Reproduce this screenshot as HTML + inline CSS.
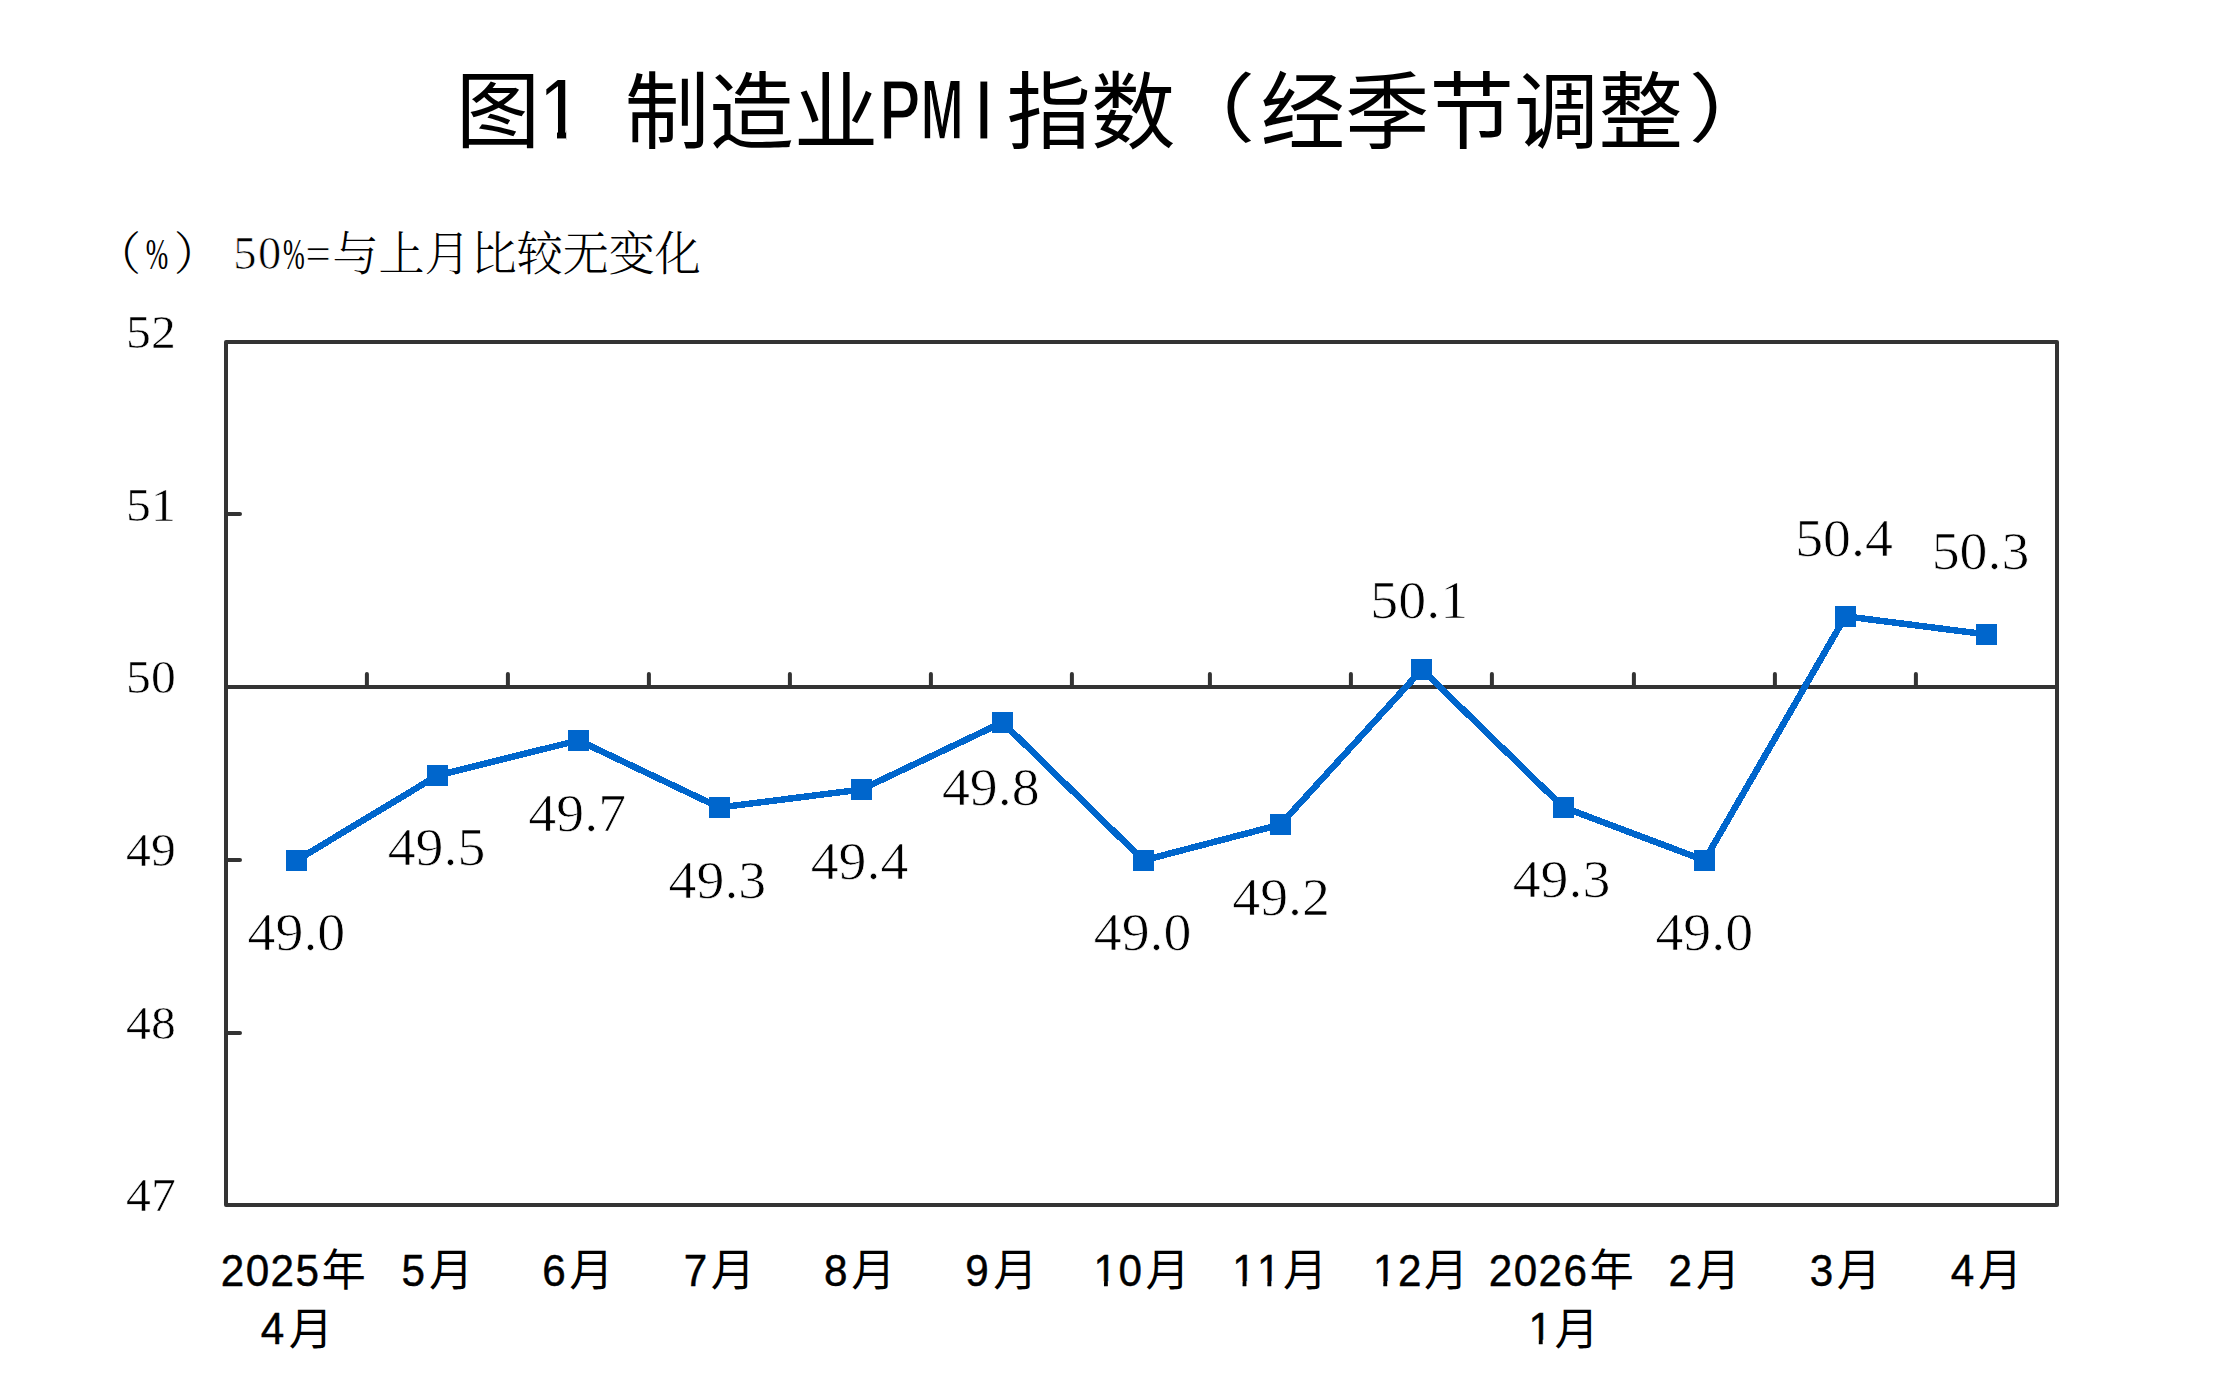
<!DOCTYPE html>
<html lang="zh-CN"><head><meta charset="utf-8"><title>图1 制造业PMI指数（经季节调整）</title>
<style>html,body{margin:0;padding:0;background:#fff}svg{display:block}.hei{font-family:"Liberation Sans","Noto Sans CJK SC","WenQuanYi Zen Hei",sans-serif}.song{font-family:"Liberation Serif","Noto Serif CJK SC",serif}.tnr{font-family:"Liberation Serif",serif}text{fill:#000}</style></head><body>
<svg width="2216" height="1396" viewBox="0 0 2216 1396">
<rect width="2216" height="1396" fill="#fff"/>
<text class="hei" x="455.80" y="140.50" font-size="84.5" text-anchor="start" font-weight="400">图</text>
<clipPath id="c1"><path d="M536 60H600V130H566.2V150H557V130H536Z"/></clipPath>
<g clip-path="url(#c1)">
<text class="hei" transform="translate(560.00,140.10) scale(0.8,1)" font-size="88.5" text-anchor="middle" font-weight="bold" stroke="#fff" stroke-width="3">1</text>
</g>
<text class="hei" x="624.80" y="141.50" font-size="84.5" text-anchor="start" font-weight="400">制造业</text>
<text class="hei" transform="translate(899.80,140.10) scale(0.72,1)" font-size="87" text-anchor="middle" font-weight="bold" stroke="#fff" stroke-width="3">P</text>
<text class="hei" transform="translate(942.20,139.40) scale(0.6,1)" font-size="85.5" text-anchor="middle" font-weight="bold" stroke="#fff" stroke-width="1.6">M</text>
<text class="hei" transform="translate(983.80,140.10) scale(0.73,1)" font-size="87" text-anchor="middle" font-weight="bold" stroke="#fff" stroke-width="3">I</text>
<text class="hei" x="1006.55" y="141.50" font-size="84.5" text-anchor="start" font-weight="400">指数</text>
<text class="hei" transform="translate(1163.90,135.90) scale(1.215,1)" font-size="75.2" text-anchor="start" font-weight="400">（</text>
<text class="hei" x="1260.55" y="141.50" font-size="84.5" text-anchor="start" font-weight="400">经季节调整</text>
<text class="hei" transform="translate(1688.40,135.90) scale(1.215,1)" font-size="75.2" text-anchor="start" font-weight="400">）</text>
<text class="song" x="95.00" y="270.00" font-size="46.05" text-anchor="start" font-weight="300">（</text>
<text class="song" transform="translate(157.10,269.00) scale(0.6,1)" font-size="45" text-anchor="middle" >%</text>
<text class="song" x="173.70" y="270.00" font-size="46.05" text-anchor="start" font-weight="300">）</text>
<text class="song" x="244.80" y="269.00" font-size="46.5" text-anchor="middle" stroke="#fff" stroke-width="0.7">5</text>
<text class="song" x="269.60" y="269.00" font-size="46.5" text-anchor="middle" stroke="#fff" stroke-width="0.7">0</text>
<text class="song" transform="translate(293.80,269.00) scale(0.58,1)" font-size="45" text-anchor="middle" >%</text>
<text class="song" transform="translate(318.20,269.00) scale(0.98,1)" font-size="46.5" text-anchor="middle" stroke="#fff" stroke-width="0.7">=</text>
<text class="song" x="332.50" y="270.00" font-size="46.05" text-anchor="start" font-weight="300">与上月比较无变化</text>
<g stroke="#333333" stroke-width="4" fill="none" stroke-linecap="round" stroke-linejoin="round">
<rect x="226" y="342" width="1831" height="863"/>
<path d="M226 687.0H2057"/>
<path d="M366.9 687.0v-13M507.9 687.0v-13M648.9 687.0v-13M789.9 687.0v-13M930.9 687.0v-13M1071.9 687.0v-13M1209.9 687.0v-13M1350.9 687.0v-13M1491.9 687.0v-13M1633.9 687.0v-13M1774.9 687.0v-13M1915.9 687.0v-13"/>
<path d="M226 514h14M226 860h14M226 1033h14"/>
</g>
<text class="tnr" transform="translate(150.90,348.20) scale(1.068,1)" font-size="46.5" text-anchor="middle" stroke="#fff" stroke-width="0.5">52</text>
<text class="tnr" transform="translate(150.90,520.70) scale(1.068,1)" font-size="46.5" text-anchor="middle" stroke="#fff" stroke-width="0.5">51</text>
<text class="tnr" transform="translate(150.90,693.20) scale(1.068,1)" font-size="46.5" text-anchor="middle" stroke="#fff" stroke-width="0.5">50</text>
<text class="tnr" transform="translate(150.90,866.20) scale(1.068,1)" font-size="46.5" text-anchor="middle" stroke="#fff" stroke-width="0.5">49</text>
<text class="tnr" transform="translate(150.90,1039.20) scale(1.068,1)" font-size="46.5" text-anchor="middle" stroke="#fff" stroke-width="0.5">48</text>
<text class="tnr" transform="translate(150.90,1211.20) scale(1.068,1)" font-size="46.5" text-anchor="middle" stroke="#fff" stroke-width="0.5">47</text>
<polyline shape-rendering="crispEdges" fill="none" stroke="#0066CC" stroke-width="6.5" stroke-linejoin="round" points="296.5,860.4 437.6,775.4 578.6,740.4 719.5,807.5 861.0,789.6 1002.5,722.4 1143.5,860.4 1280.4,824.6 1421.9,669.5 1563.2,807.2 1704.5,860.4 1845.5,616.3 1986.4,634.4"/>
<rect shape-rendering="crispEdges" x="286.0" y="849.9" width="21" height="21" fill="#0066CC"/>
<rect shape-rendering="crispEdges" x="427.1" y="764.9" width="21" height="21" fill="#0066CC"/>
<rect shape-rendering="crispEdges" x="568.1" y="729.9" width="21" height="21" fill="#0066CC"/>
<rect shape-rendering="crispEdges" x="709.0" y="797.0" width="21" height="21" fill="#0066CC"/>
<rect shape-rendering="crispEdges" x="850.5" y="779.1" width="21" height="21" fill="#0066CC"/>
<rect shape-rendering="crispEdges" x="992.0" y="711.9" width="21" height="21" fill="#0066CC"/>
<rect shape-rendering="crispEdges" x="1133.0" y="849.9" width="21" height="21" fill="#0066CC"/>
<rect shape-rendering="crispEdges" x="1269.9" y="814.1" width="21" height="21" fill="#0066CC"/>
<rect shape-rendering="crispEdges" x="1411.4" y="659.0" width="21" height="21" fill="#0066CC"/>
<rect shape-rendering="crispEdges" x="1552.7" y="796.7" width="21" height="21" fill="#0066CC"/>
<rect shape-rendering="crispEdges" x="1694.0" y="849.9" width="21" height="21" fill="#0066CC"/>
<rect shape-rendering="crispEdges" x="1835.0" y="605.8" width="21" height="21" fill="#0066CC"/>
<rect shape-rendering="crispEdges" x="1975.9" y="623.9" width="21" height="21" fill="#0066CC"/>
<text class="tnr" transform="translate(296.40,950.00) scale(1.072,1)" font-size="52.1" text-anchor="middle" stroke="#fff" stroke-width="0.7">49.0</text>
<text class="tnr" transform="translate(436.50,865.40) scale(1.072,1)" font-size="52.1" text-anchor="middle" stroke="#fff" stroke-width="0.7">49.5</text>
<text class="tnr" transform="translate(577.20,830.50) scale(1.072,1)" font-size="52.1" text-anchor="middle" stroke="#fff" stroke-width="0.7">49.7</text>
<text class="tnr" transform="translate(717.40,897.50) scale(1.072,1)" font-size="52.1" text-anchor="middle" stroke="#fff" stroke-width="0.7">49.3</text>
<text class="tnr" transform="translate(859.50,879.00) scale(1.072,1)" font-size="52.1" text-anchor="middle" stroke="#fff" stroke-width="0.7">49.4</text>
<text class="tnr" transform="translate(990.80,804.80) scale(1.072,1)" font-size="52.1" text-anchor="middle" stroke="#fff" stroke-width="0.7">49.8</text>
<text class="tnr" transform="translate(1142.60,950.40) scale(1.072,1)" font-size="52.1" text-anchor="middle" stroke="#fff" stroke-width="0.7">49.0</text>
<text class="tnr" transform="translate(1281.10,914.80) scale(1.072,1)" font-size="52.1" text-anchor="middle" stroke="#fff" stroke-width="0.7">49.2</text>
<text class="tnr" transform="translate(1419.20,618.40) scale(1.072,1)" font-size="52.1" text-anchor="middle" stroke="#fff" stroke-width="0.7">50.1</text>
<text class="tnr" transform="translate(1561.50,897.00) scale(1.072,1)" font-size="52.1" text-anchor="middle" stroke="#fff" stroke-width="0.7">49.3</text>
<text class="tnr" transform="translate(1704.30,950.20) scale(1.072,1)" font-size="52.1" text-anchor="middle" stroke="#fff" stroke-width="0.7">49.0</text>
<text class="tnr" transform="translate(1844.00,556.20) scale(1.072,1)" font-size="52.1" text-anchor="middle" stroke="#fff" stroke-width="0.7">50.4</text>
<text class="tnr" transform="translate(1980.50,568.90) scale(1.072,1)" font-size="52.1" text-anchor="middle" stroke="#fff" stroke-width="0.7">50.3</text>
<text class="hei" transform="translate(232.59,1285.50) scale(0.96,1)" font-size="44" text-anchor="middle" stroke="#000" stroke-width="0.45">2</text>
<text class="hei" transform="translate(257.46,1285.50) scale(0.96,1)" font-size="44" text-anchor="middle" stroke="#000" stroke-width="0.45">0</text>
<text class="hei" transform="translate(282.33,1285.50) scale(0.96,1)" font-size="44" text-anchor="middle" stroke="#000" stroke-width="0.45">2</text>
<text class="hei" transform="translate(307.20,1285.50) scale(0.96,1)" font-size="44" text-anchor="middle" stroke="#000" stroke-width="0.45">5</text>
<text class="hei" x="343.64" y="1286.30" font-size="44.3" text-anchor="middle" >年</text>
<text class="hei" transform="translate(272.40,1344.00) scale(0.96,1)" font-size="44" text-anchor="middle" stroke="#000" stroke-width="0.45">4</text>
<text class="hei" x="310.83" y="1344.80" font-size="44.3" text-anchor="middle" >月</text>
<text class="hei" transform="translate(413.30,1285.50) scale(0.96,1)" font-size="44" text-anchor="middle" stroke="#000" stroke-width="0.45">5</text>
<text class="hei" x="451.24" y="1286.30" font-size="44.3" text-anchor="middle" >月</text>
<text class="hei" transform="translate(554.10,1285.50) scale(0.96,1)" font-size="44" text-anchor="middle" stroke="#000" stroke-width="0.45">6</text>
<text class="hei" x="591.53" y="1286.30" font-size="44.3" text-anchor="middle" >月</text>
<text class="hei" transform="translate(695.60,1285.50) scale(0.96,1)" font-size="44" text-anchor="middle" stroke="#000" stroke-width="0.45">7</text>
<text class="hei" x="733.03" y="1286.30" font-size="44.3" text-anchor="middle" >月</text>
<text class="hei" transform="translate(835.80,1285.50) scale(0.96,1)" font-size="44" text-anchor="middle" stroke="#000" stroke-width="0.45">8</text>
<text class="hei" x="873.53" y="1286.30" font-size="44.3" text-anchor="middle" >月</text>
<text class="hei" transform="translate(977.00,1285.50) scale(0.96,1)" font-size="44" text-anchor="middle" stroke="#000" stroke-width="0.45">9</text>
<text class="hei" x="1015.44" y="1286.30" font-size="44.3" text-anchor="middle" >月</text>
<clipPath id="k1"><path d="M1091.4 1241.5H1119.4V1281.3H1107.81V1288.5H1103.96V1281.3H1091.4Z"/></clipPath>
<g clip-path="url(#k1)">
<text class="hei" transform="translate(1105.36,1285.50) scale(0.96,1)" font-size="44" text-anchor="middle" stroke="#000" stroke-width="0.45">1</text>
</g>
<text class="hei" transform="translate(1130.23,1285.50) scale(0.96,1)" font-size="44" text-anchor="middle" stroke="#000" stroke-width="0.45">0</text>
<text class="hei" x="1167.67" y="1286.30" font-size="44.3" text-anchor="middle" >月</text>
<clipPath id="k2"><path d="M1230.0 1241.5H1258.0V1281.3H1246.42V1288.5H1242.57V1281.3H1230.0Z"/></clipPath>
<g clip-path="url(#k2)">
<text class="hei" transform="translate(1243.97,1285.50) scale(0.96,1)" font-size="44" text-anchor="middle" stroke="#000" stroke-width="0.45">1</text>
</g>
<clipPath id="k3"><path d="M1254.8 1241.5H1282.8V1281.3H1271.29V1288.5H1267.43V1281.3H1254.8Z"/></clipPath>
<g clip-path="url(#k3)">
<text class="hei" transform="translate(1268.84,1285.50) scale(0.96,1)" font-size="44" text-anchor="middle" stroke="#000" stroke-width="0.45">1</text>
</g>
<text class="hei" x="1305.27" y="1286.30" font-size="44.3" text-anchor="middle" >月</text>
<clipPath id="k4"><path d="M1370.8 1241.5H1398.8V1281.3H1387.21V1288.5H1383.36V1281.3H1370.8Z"/></clipPath>
<g clip-path="url(#k4)">
<text class="hei" transform="translate(1384.76,1285.50) scale(0.96,1)" font-size="44" text-anchor="middle" stroke="#000" stroke-width="0.45">1</text>
</g>
<text class="hei" transform="translate(1409.63,1285.50) scale(0.96,1)" font-size="44" text-anchor="middle" stroke="#000" stroke-width="0.45">2</text>
<text class="hei" x="1446.07" y="1286.30" font-size="44.3" text-anchor="middle" >月</text>
<text class="hei" transform="translate(1500.60,1285.50) scale(0.96,1)" font-size="44" text-anchor="middle" stroke="#000" stroke-width="0.45">2</text>
<text class="hei" transform="translate(1525.46,1285.50) scale(0.96,1)" font-size="44" text-anchor="middle" stroke="#000" stroke-width="0.45">0</text>
<text class="hei" transform="translate(1550.33,1285.50) scale(0.96,1)" font-size="44" text-anchor="middle" stroke="#000" stroke-width="0.45">2</text>
<text class="hei" transform="translate(1575.20,1285.50) scale(0.96,1)" font-size="44" text-anchor="middle" stroke="#000" stroke-width="0.45">6</text>
<text class="hei" x="1611.64" y="1286.30" font-size="44.3" text-anchor="middle" >年</text>
<clipPath id="k5"><path d="M1526.2 1300H1554.2V1339.8H1542.65V1347H1538.80V1339.8H1526.2Z"/></clipPath>
<g clip-path="url(#k5)">
<text class="hei" transform="translate(1540.20,1344.00) scale(0.96,1)" font-size="44" text-anchor="middle" stroke="#000" stroke-width="0.45">1</text>
</g>
<text class="hei" x="1576.63" y="1344.80" font-size="44.3" text-anchor="middle" >月</text>
<text class="hei" transform="translate(1680.20,1285.50) scale(0.96,1)" font-size="44" text-anchor="middle" stroke="#000" stroke-width="0.45">2</text>
<text class="hei" x="1718.13" y="1286.30" font-size="44.3" text-anchor="middle" >月</text>
<text class="hei" transform="translate(1821.40,1285.50) scale(0.96,1)" font-size="44" text-anchor="middle" stroke="#000" stroke-width="0.45">3</text>
<text class="hei" x="1858.84" y="1286.30" font-size="44.3" text-anchor="middle" >月</text>
<text class="hei" transform="translate(1962.40,1285.50) scale(0.96,1)" font-size="44" text-anchor="middle" stroke="#000" stroke-width="0.45">4</text>
<text class="hei" x="2000.04" y="1286.30" font-size="44.3" text-anchor="middle" >月</text>
</svg></body></html>
